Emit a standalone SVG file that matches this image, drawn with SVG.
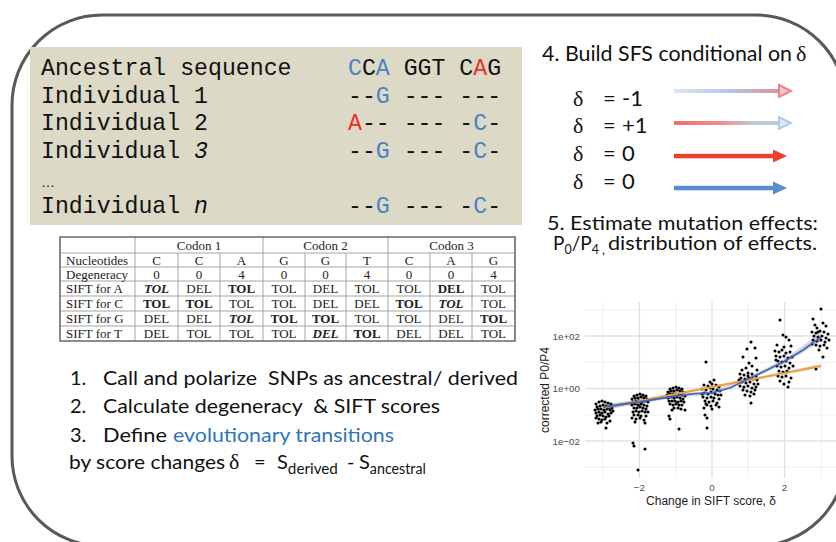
<svg xmlns="http://www.w3.org/2000/svg" width="836" height="542" viewBox="0 0 836 542">
<defs>
<style>
.seq{font-family:"Liberation Mono",monospace;font-size:23.2px;fill:#111}
.b{fill:#4a82c4}
.r{fill:#ee2e24}
.cal{font-family:Lato,"Open Sans",sans-serif;fill:#111}
.sym{font-family:"Liberation Serif",serif;fill:#111}
.tb{font-family:"Liberation Serif",serif;font-size:13px;fill:#222;text-anchor:middle}
.tl{text-anchor:start}
.bd{font-weight:bold}
.bi{font-weight:bold;font-style:italic}
.tline{stroke:#9a9a9a;stroke-width:0.9;fill:none}
.tedge{stroke:#6a6a6a;stroke-width:1.6;fill:none}
.gmaj{stroke:#e2e2e2;stroke-width:1.4}
.gmin{stroke:#ebebeb;stroke-width:0.8}
.tick{font-family:"Liberation Sans",sans-serif;font-size:9.8px;fill:#4d4d4d}
.axt{font-family:"Liberation Sans",sans-serif;font-size:12px;fill:#1a1a1a}
</style>
<linearGradient id="gradBR" gradientUnits="userSpaceOnUse" x1="674" y1="0" x2="792" y2="0">
<stop offset="0" stop-color="#dce6f4"/>
<stop offset="0.45" stop-color="#b3c8e4"/>
<stop offset="1" stop-color="#e8848e"/>
</linearGradient>
<linearGradient id="gradRB" gradientUnits="userSpaceOnUse" x1="674" y1="0" x2="792" y2="0">
<stop offset="0" stop-color="#ef6e6c"/>
<stop offset="0.4" stop-color="#ee8e94"/>
<stop offset="0.7" stop-color="#bccae2"/>
<stop offset="1" stop-color="#b3cae6"/>
</linearGradient>
</defs>

<rect width="836" height="542" fill="#fff"/>

<!-- outer frame -->
<rect x="12" y="15" width="834" height="531" rx="90" fill="none" stroke="#595959" stroke-width="3"/>

<!-- sequence alignment -->
<g id="alignment">
<rect x="30" y="47" width="492" height="178" fill="#dcd9c7"/>
<text class="seq" x="41" y="75">Ancestral sequence</text>
<text class="seq" x="348" y="75"><tspan class="b">C</tspan>C<tspan class="b">A</tspan> GGT C<tspan class="r">A</tspan>G</text>
<text class="seq" x="41" y="103">Individual 1</text>
<text class="seq" x="348" y="103">--<tspan class="b">G</tspan> --- ---</text>
<text class="seq" x="41" y="130">Individual 2</text>
<text class="seq" x="348" y="130"><tspan class="r">A</tspan>-- --- -<tspan class="b">C</tspan>-</text>
<text class="seq" x="41" y="158">Individual <tspan font-style="italic">3</tspan></text>
<text class="seq" x="348" y="158">--<tspan class="b">G</tspan> --- -<tspan class="b">C</tspan>-</text>
<text x="41" y="187" font-family="Liberation Sans,sans-serif" font-size="14" fill="#111">…</text>
<text class="seq" x="41" y="213">Individual <tspan font-style="italic">n</tspan></text>
<text class="seq" x="348" y="213">--<tspan class="b">G</tspan> --- -<tspan class="b">C</tspan>-</text>
</g>

<!-- SIFT table -->
<g id="sift-table">
<rect x="60" y="237" width="455" height="104" fill="#fff"/>
<path class="tline" d="M60 253H515M60 267H515M60 296H515M60 311H515M60 326H515"/>
<path class="tline" d="M178 253V341M220 253V341M305 253V341M346 253V341M430 253V341M472 253V341"/>
<path class="tline" d="M135 237V341M263 237V341M388 237V341" stroke-width="1.3"/>
<path class="tline" d="M60 281H515" stroke-width="1.5"/>
<path class="tedge" d="M60 237H515V341H60Z"/>
<text class="tb" x="199" y="249.5">Codon 1</text>
<text class="tb" x="325.5" y="249.5">Codon 2</text>
<text class="tb" x="451.5" y="249.5">Codon 3</text>
<g>
<text class="tb tl" x="66" y="264.5">Nucleotides</text>
<text class="tb" x="156.5" y="264.5">C</text><text class="tb" x="199" y="264.5">C</text><text class="tb" x="241.5" y="264.5">A</text>
<text class="tb" x="284" y="264.5">G</text><text class="tb" x="325.5" y="264.5">G</text><text class="tb" x="367" y="264.5">T</text>
<text class="tb" x="409" y="264.5">C</text><text class="tb" x="451" y="264.5">A</text><text class="tb" x="493.5" y="264.5">G</text>
</g>
<g>
<text class="tb tl" x="66" y="278.5">Degeneracy</text>
<text class="tb" x="156.5" y="278.5">0</text><text class="tb" x="199" y="278.5">0</text><text class="tb" x="241.5" y="278.5">4</text>
<text class="tb" x="284" y="278.5">0</text><text class="tb" x="325.5" y="278.5">0</text><text class="tb" x="367" y="278.5">4</text>
<text class="tb" x="409" y="278.5">0</text><text class="tb" x="451" y="278.5">0</text><text class="tb" x="493.5" y="278.5">4</text>
</g>
<g>
<text class="tb tl" x="66" y="293">SIFT for A</text>
<text class="tb bi" x="156.5" y="293">TOL</text><text class="tb" x="199" y="293">DEL</text><text class="tb bd" x="241.5" y="293">TOL</text>
<text class="tb" x="284" y="293">TOL</text><text class="tb" x="325.5" y="293">DEL</text><text class="tb" x="367" y="293">TOL</text>
<text class="tb" x="409" y="293">TOL</text><text class="tb bd" x="451" y="293">DEL</text><text class="tb" x="493.5" y="293">TOL</text>
</g>
<g>
<text class="tb tl" x="66" y="308">SIFT for C</text>
<text class="tb bd" x="156.5" y="308">TOL</text><text class="tb bd" x="199" y="308">TOL</text><text class="tb" x="241.5" y="308">TOL</text>
<text class="tb" x="284" y="308">TOL</text><text class="tb" x="325.5" y="308">DEL</text><text class="tb" x="367" y="308">DEL</text>
<text class="tb bd" x="409" y="308">TOL</text><text class="tb bi" x="451" y="308">TOL</text><text class="tb" x="493.5" y="308">TOL</text>
</g>
<g>
<text class="tb tl" x="66" y="323">SIFT for G</text>
<text class="tb" x="156.5" y="323">DEL</text><text class="tb" x="199" y="323">DEL</text><text class="tb bi" x="241.5" y="323">TOL</text>
<text class="tb bd" x="284" y="323">TOL</text><text class="tb bd" x="325.5" y="323">TOL</text><text class="tb" x="367" y="323">TOL</text>
<text class="tb" x="409" y="323">TOL</text><text class="tb" x="451" y="323">DEL</text><text class="tb bd" x="493.5" y="323">TOL</text>
</g>
<g>
<text class="tb tl" x="66" y="338">SIFT for T</text>
<text class="tb" x="156.5" y="338">DEL</text><text class="tb" x="199" y="338">TOL</text><text class="tb" x="241.5" y="338">TOL</text>
<text class="tb" x="284" y="338">TOL</text><text class="tb bi" x="325.5" y="338">DEL</text><text class="tb bd" x="367" y="338">TOL</text>
<text class="tb" x="409" y="338">DEL</text><text class="tb" x="451" y="338">DEL</text><text class="tb" x="493.5" y="338">TOL</text>
</g>
</g>

<!-- steps 1-3 -->
<g id="steps" class="cal" font-size="20">
<text x="70" y="385">1.</text>
<text x="103" y="385" textLength="415" lengthAdjust="spacingAndGlyphs" xml:space="preserve">Call and polarize  SNPs as ancestral/ derived</text>
<text x="70" y="413">2.</text>
<text x="103" y="413" textLength="337" lengthAdjust="spacingAndGlyphs" xml:space="preserve">Calculate degeneracy  &amp; SIFT scores</text>
<text x="70" y="442">3.</text>
<text x="103" y="442" textLength="64" lengthAdjust="spacingAndGlyphs">Define</text>
<text x="173" y="442" fill="#2f74bb" textLength="221" lengthAdjust="spacingAndGlyphs">evolutionary transitions</text>
<text x="69" y="469" textLength="156" lengthAdjust="spacingAndGlyphs">by score changes</text>
<text class="sym" x="229" y="469" font-size="22">δ</text>
<text x="254" y="469">=</text>
<text x="277" y="469">S<tspan font-size="14.5" dy="5" textLength="50" lengthAdjust="spacingAndGlyphs">derived</tspan></text>
<text x="347" y="469">-</text>
<text x="359" y="469">S<tspan font-size="14.5" dy="5" textLength="56" lengthAdjust="spacingAndGlyphs">ancestral</tspan></text>
</g>

<!-- step 4: SFS by delta class -->
<g id="sfs-legend">
<text class="cal" x="542" y="61" font-size="21" textLength="250" lengthAdjust="spacingAndGlyphs">4. Build SFS conditional on</text>
<text class="sym" x="796" y="61" font-size="22">δ</text>
<g font-size="22">
<text class="sym" x="573" y="106">δ</text><text class="cal" x="603" y="106">=</text><text class="cal" x="622" y="106">-1</text>
<text class="sym" x="573" y="133">δ</text><text class="cal" x="603" y="133">=</text><text class="cal" x="622" y="133">+1</text>
<text class="sym" x="573" y="161">δ</text><text class="cal" x="603" y="161">=</text><text class="cal" x="622" y="161">0</text>
<text class="sym" x="573" y="189">δ</text><text class="cal" x="603" y="189">=</text><text class="cal" x="622" y="189">0</text>
</g>
</g>

<g id="connectors">
<rect x="674" y="89" width="107" height="4" fill="url(#gradBR)"/>
<polygon points="779,85 791,91 779,97" fill="#f4c7cb" stroke="#e8848e" stroke-width="2" stroke-linejoin="miter"/>
<rect x="674" y="121" width="107" height="4" fill="url(#gradRB)"/>
<polygon points="779,117 791,123 779,129" fill="#dde7f4" stroke="#b3cae6" stroke-width="2" stroke-linejoin="miter"/>
<rect x="674" y="153.8" width="101" height="4.5" fill="#e8412c"/>
<polygon points="773,149.5 787,156 773,162.5" fill="#e8412c"/>
<rect x="674" y="185.8" width="101" height="4.5" fill="#5b8bcd"/>
<polygon points="773,181.5 787,188 773,194.5" fill="#5b8bcd"/>
</g>

<!-- step 5 -->
<g id="effects-title" class="cal" font-size="19">
<text x="547" y="230" textLength="271" lengthAdjust="spacingAndGlyphs">5. Estimate mutation effects:</text>
<text x="553" y="250">P<tspan font-size="12.5" dy="4">0</tspan><tspan dy="-4">/P</tspan><tspan font-size="12.5" dy="4">4 ,</tspan></text>
<text x="608" y="250" textLength="209" lengthAdjust="spacingAndGlyphs">distribution of effects.</text>
</g>

<!-- P0/P4 against delta -->
<g id="plot">
<path class="gmin" d="M603 302V478M675.7 302V478M748.3 302V478M820.9 302V478M585 309.8H836M585 362.3H836M585 414.8H836M585 467.3H836"/>
<path class="gmaj" d="M639.4 302V478M712 302V478M784.6 302V478M585 336H836M585 388.5H836M585 441H836"/>
<path d="M603,404 L639,400 L676,394.5 L712,391.5 L748,377.2 L785,358.5 L821,332.5 L821,341.5 L785,363.5 L748,380.8 L712,394.5 L676,397.5 L639,404 L603,410Z" fill="#a8a8a8" fill-opacity="0.45"/>
<path d="M603,406 L712,385.8 L821,364 L821,368 L712,388.2 L603,410Z" fill="#a8a8a8" fill-opacity="0.4"/>
<path fill="none" stroke="#000" stroke-width="3.1" stroke-linecap="round" d="M596 404h0M599 402h0M602 401h0M605 402h0M608 403h0M611 404h0M597 407h0M600 406h0M603 405h0M606 406h0M609 407h0M612 408h0M595 410h0M598 409h0M601 409h0M604 410h0M607 409h0M610 410h0M596 413h0M599 412h0M602 413h0M605 412h0M608 414h0M611 413h0M597 416h0M600 415h0M603 416h0M606 417h0M609 416h0M599 419h0M602 420h0M605 419h0M596 418h0M598 423h0M607 423h0M610 421h0M606 428h0M601 422h0M613 411h0
M634 396h0M637 395h0M640 394h0M643 395h0M646 396h0M632 399h0M635 398h0M638 398h0M641 397h0M644 398h0M647 399h0M633 402h0M636 401h0M639 401h0M642 402h0M645 401h0M648 402h0M632 405h0M635 404h0M638 405h0M641 404h0M644 405h0M647 406h0M634 408h0M637 408h0M640 407h0M643 408h0M646 409h0M633 412h0M636 411h0M639 412h0M642 411h0M645 412h0M634 415h0M638 415h0M641 416h0M646 416h0M632 418h0M636 419h0M640 418h0M644 420h0M635 422h0M645 423h0M633 443h0M634 446h0M645 449h0M638 470h0M648 412h0
M670 389h0M673 388h0M676 387h0M679 388h0M682 389h0M668 392h0M671 391h0M674 391h0M677 390h0M680 391h0M683 392h0M667 395h0M670 394h0M673 394h0M676 394h0M679 394h0M682 395h0M685 396h0M668 398h0M671 397h0M674 398h0M677 397h0M680 398h0M683 399h0M669 401h0M672 401h0M675 401h0M678 402h0M681 401h0M684 402h0M670 404h0M673 405h0M676 404h0M679 405h0M682 405h0M674 408h0M678 408h0M672 410h0M681 409h0M669 416h0M670 419h0M679 429h0M685 410h0
M706 362h0M710 382h0M714 380h0M704 385h0M708 386h0M712 384h0M716 385h0M719 387h0M702 389h0M706 390h0M710 388h0M713 389h0M717 390h0M720 391h0M704 393h0M708 394h0M711 392h0M715 394h0M718 395h0M703 397h0M707 398h0M711 397h0M714 398h0M719 399h0M705 401h0M709 402h0M713 401h0M717 403h0M707 405h0M711 406h0M716 405h0M704 408h0M712 409h0M719 407h0M706 404h0M705 415h0M707 418h0M707 428h0M721 395h0M702 394h0
M751 342h0M747 349h0M755 348h0M743 357h0M749 363h0M756 358h0M742 370h0M746 368h0M752 366h0M757 370h0M740 374h0M744 375h0M748 373h0M752 374h0M756 376h0M741 378h0M745 379h0M749 378h0M753 379h0M757 380h0M742 382h0M746 383h0M750 382h0M754 384h0M740 386h0M744 387h0M748 386h0M752 388h0M756 387h0M743 390h0M747 391h0M751 392h0M755 390h0M745 395h0M750 396h0M754 394h0M751 403h0M739 380h0M758 384h0M748 376h0
M780 320h0M783 335h0M786 337h0M789 340h0M777 345h0M784 347h0M791 346h0M775 351h0M779 352h0M782 350h0M786 353h0M790 352h0M776 356h0M780 357h0M784 356h0M788 358h0M792 357h0M778 361h0M782 362h0M786 361h0M790 363h0M777 366h0M781 367h0M785 366h0M789 368h0M793 366h0M779 371h0M783 372h0M787 371h0M778 376h0M782 377h0M786 376h0M791 378h0M780 381h0M789 382h0M788 387h0M784 384h0M776 360h0
M821 309h0M813 319h0M823 323h0M815 325h0M817 328h0M826 326h0M812 332h0M816 333h0M820 331h0M824 332h0M828 334h0M814 336h0M818 337h0M822 336h0M826 338h0M813 340h0M817 341h0M821 340h0M825 342h0M816 345h0M820 346h0M824 345h0M827 348h0M819 350h0M823 357h0M816 369h0M812 344h0M829 340h0M818 332h0"/>
<path d="M603,408 L821,366" fill="none" stroke="#f0a030" stroke-width="1.8"/>
<path d="M603,407 L621,404.5 L639,402 L657,399 L676,396 L694,393.6 L712,392.8 L730,388 L748,379 L766,370.5 L785,361 L803,350 L821,337" fill="none" stroke="#4466c0" stroke-width="1.8" stroke-linejoin="round"/>
<text class="tick" x="580" y="339.5" text-anchor="end">1e+02</text>
<text class="tick" x="580" y="392" text-anchor="end">1e+00</text>
<text class="tick" x="580" y="444.5" text-anchor="end">1e−02</text>
<text class="tick" x="639.4" y="491" text-anchor="middle">−2</text>
<text class="tick" x="712" y="491" text-anchor="middle">0</text>
<text class="tick" x="784.6" y="491" text-anchor="middle">2</text>
<text class="axt" x="711" y="505" text-anchor="middle">Change in SIFT score, δ</text>
<text class="axt" font-size="11.5" transform="translate(549,390) rotate(-90)" text-anchor="middle">corrected P0/P4</text>
</g>
</svg>
